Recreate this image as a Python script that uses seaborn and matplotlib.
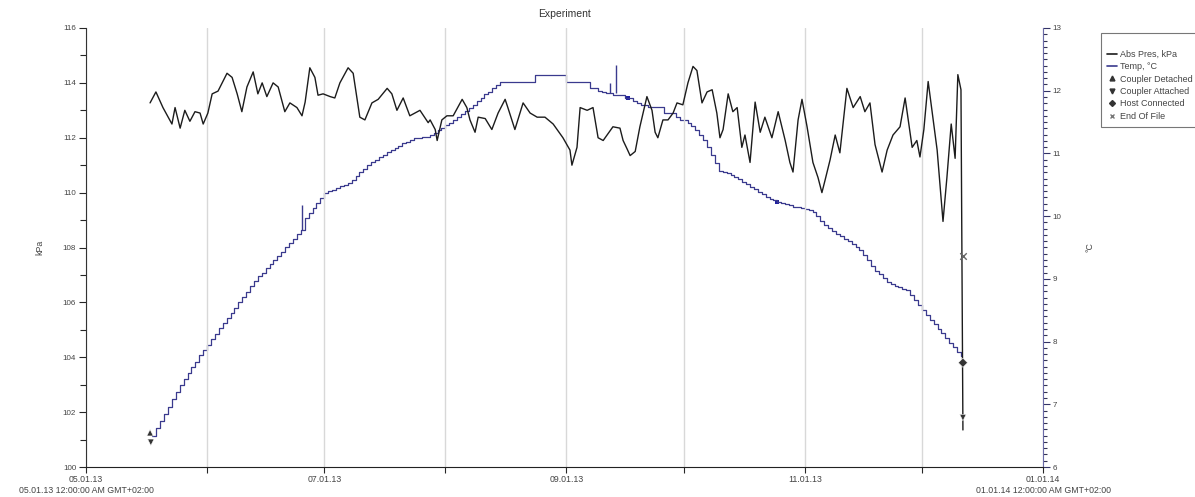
import pandas as pd
import matplotlib

matplotlib.use("Agg")
import matplotlib.pyplot as plt
import matplotlib.dates as mdates
from matplotlib.ticker import MultipleLocator, FuncFormatter
from matplotlib.lines import Line2D
import seaborn as sns

LAUNCH = pd.Timestamp("2013-05-01")
END = pd.Timestamp("2014-01-01")

# Abs Pres (kPa) - dias desde 01/05/2013
pres_day = [
    16.4, 17.9, 19.7, 22.0, 22.8, 24.1, 25.3, 26.6, 27.9, 29.2, 30.0, 31.2, 32.3,
    33.8, 36.1, 37.4, 38.7, 39.9, 41.2, 42.8, 44.0, 45.1, 46.3, 47.9, 49.2, 50.9,
    52.2, 54.0, 55.3, 56.1, 57.3, 58.6, 59.4, 60.7, 62.5, 63.7, 65.0, 67.1, 68.4,
    70.1, 71.4, 73.2, 74.8, 77.1, 78.3, 79.6, 81.2, 82.9, 85.5, 87.6, 88.1, 89.4,
    89.9, 91.1, 92.4, 94.0, 96.3, 97.5, 98.3, 99.6, 100.4, 102.2, 103.9, 105.5,
    107.3, 108.0, 109.8, 111.9, 113.7, 115.5, 117.5, 119.6, 122.1, 123.9, 124.4,
    125.7, 126.5, 128.3, 129.8, 131.1, 132.4, 133.4, 134.9, 136.7, 137.5, 138.5,
    139.3, 140.6, 141.8, 143.6, 144.9, 145.7, 146.4, 147.7, 149.0, 150.3, 151.3,
    152.8, 154.1, 155.4, 156.4, 157.7, 159.0, 160.3, 161.5, 162.3, 163.1, 164.4,
    165.6, 166.7, 167.9, 168.7, 170.0, 171.3, 172.6, 173.8, 175.6, 177.2, 179.0,
    180.2, 181.0, 182.3, 183.3, 184.6, 186.1, 187.4, 188.4, 189.2, 190.5, 191.8,
    193.0, 194.8, 196.4, 198.2, 199.4, 200.7, 202.0, 203.8, 205.1, 206.6, 208.4,
    209.7, 211.5, 212.7, 213.5, 214.5, 215.6, 216.8, 217.9, 219.4, 220.4, 221.5,
    222.5, 223.2, 224.0, 224.5,
]
pres_kpa = [
    113.27, 113.67, 113.1, 112.5, 113.1, 112.35, 113.0, 112.6, 112.95, 112.9, 112.5,
    112.9, 113.6, 113.7, 114.35, 114.2, 113.6, 112.95, 113.85, 114.4, 113.6, 114.0,
    113.5, 114.0, 113.85, 112.95, 113.27, 113.1, 112.8, 113.3, 114.55, 114.2, 113.55,
    113.6, 113.5, 113.45, 114.0, 114.55, 114.35, 112.75, 112.65, 113.27, 113.4, 113.8,
    113.6, 113.0, 113.45, 112.8, 113.0, 112.55, 112.65, 112.3, 111.9, 112.65, 112.8,
    112.8, 113.4, 113.1, 112.65, 112.2, 112.75, 112.7, 112.3, 112.9, 113.4, 113.1,
    112.3, 113.27, 112.9, 112.75, 112.75, 112.5, 112.0, 111.55, 111.0, 111.65, 113.1,
    113.0, 113.1, 112.0, 111.9, 112.1, 112.4, 112.35, 111.9, 111.6, 111.35, 111.5,
    112.4, 113.5, 113.0, 112.2, 112.0, 112.65, 112.65, 112.9, 113.27, 113.2, 114.0,
    114.6, 114.45, 113.27, 113.67, 113.75, 112.9, 112.0, 112.3, 113.6, 112.95, 113.1,
    111.65, 112.1, 111.1, 113.3, 112.2, 112.75, 112.0, 112.95, 111.9, 111.1, 110.75,
    112.65, 113.4, 112.4, 111.1, 110.55, 110.0, 110.45, 111.2, 112.1, 111.45, 113.8,
    113.1, 113.5, 112.95, 113.27, 111.75, 110.75, 111.55, 112.1, 112.4, 113.45,
    111.65, 111.9, 111.3, 112.3, 114.05, 112.75, 111.55, 108.95, 110.55, 112.5,
    111.25, 114.3, 113.75, 101.35,
]

# Temp (°C) - uma leitura por dia, a partir de 18/05/2013
temp_start = "2013-05-18"
temp_c = [
    6.50, 6.62, 6.73, 6.85, 6.96, 7.08, 7.19, 7.31, 7.40, 7.50,
    7.59, 7.68, 7.78, 7.87, 7.95, 8.04, 8.12, 8.21, 8.29, 8.38,
    8.46, 8.54, 8.63, 8.71, 8.79, 8.88, 8.96, 9.04, 9.10, 9.17,
    9.23, 9.30, 9.36, 9.43, 9.50, 9.57, 9.64, 9.71, 9.78, 9.97,
    10.05, 10.13, 10.21, 10.29, 10.37, 10.40, 10.42, 10.45, 10.48, 10.50,
    10.53, 10.58, 10.64, 10.70, 10.75, 10.81, 10.86, 10.90, 10.94, 10.98,
    11.02, 11.06, 11.09, 11.12, 11.16, 11.19, 11.22, 11.25, 11.25, 11.26,
    11.26, 11.30, 11.33, 11.37, 11.41, 11.45, 11.49, 11.53, 11.58, 11.63,
    11.68, 11.73, 11.78, 11.84, 11.89, 11.95, 11.98, 12.04, 12.09, 12.14,
    12.14, 12.14, 12.14, 12.14, 12.14, 12.14, 12.14, 12.14, 12.25, 12.25,
    12.25, 12.25, 12.25, 12.25, 12.25, 12.25, 12.14, 12.14, 12.14, 12.14,
    12.14, 12.14, 12.04, 12.04, 12.00, 11.98, 11.96, 11.96, 11.93, 11.93,
    11.93, 11.88, 11.88, 11.84, 11.80, 11.77, 11.77, 11.74, 11.74, 11.74,
    11.74, 11.64, 11.64, 11.64, 11.58, 11.53, 11.53, 11.48, 11.43, 11.37,
    11.30, 11.22, 11.10, 10.98, 10.85, 10.72, 10.70, 10.68, 10.66, 10.63,
    10.59, 10.55, 10.51, 10.47, 10.43, 10.39, 10.35, 10.31, 10.28, 10.25,
    10.23, 10.21, 10.19, 10.17, 10.15, 10.15, 10.13, 10.11, 10.09, 10.07,
    10.00, 9.93, 9.86, 9.81, 9.77, 9.72, 9.68, 9.64, 9.60, 9.55,
    9.51, 9.46, 9.38, 9.30, 9.21, 9.13, 9.07, 9.01, 8.95, 8.92,
    8.89, 8.87, 8.84, 8.82, 8.74, 8.66, 8.58, 8.50, 8.43, 8.35,
    8.28, 8.20, 8.13, 8.05, 7.98, 7.91, 7.84, 7.77,
]

# picos e marcas pequenas na curva de temperatura
temp_spike_day = [55.3, 134.2, 135.7]
temp_spike_base = [9.78, 11.96, 11.96]
temp_spike_top = [10.18, 12.12, 12.41]
temp_mark_day = [138.8, 176.9]
temp_mark_c = [11.88, 10.23]

# eventos do logger (eixo kPa)
event_name = ["Coupler Detached", "Coupler Attached", "Coupler Attached",
              "Host Connected", "End Of File"]
event_day = [16.4, 16.6, 224.5, 224.5, 224.5]
event_kpa = [101.25, 100.9, 101.8, 103.8, 107.7]

PRES_COLOR = "#1c1c1c"
TEMP_COLOR = "#3a3a8e"
EVENT_COLOR = "#333333"
TEXT_COLOR = "#444444"
MARKERS = {"Coupler Detached": "^", "Coupler Attached": "v",
           "Host Connected": "D"}


def to_dates(days):
    return LAUNCH + pd.to_timedelta(days, unit="D")


def plot_experiment(output="out.png"):
    sns.set_style("ticks")
    plt.rcParams["font.family"] = ["Liberation Sans", "DejaVu Sans"]

    pres = pd.DataFrame({"time": to_dates(pres_day), "kpa": pres_kpa})
    temp = pd.DataFrame({
        "time": pd.date_range(temp_start, periods=len(temp_c), freq="D"),
        "c": temp_c,
    })
    events = pd.DataFrame({"time": to_dates(event_day), "kpa": event_kpa,
                           "event": event_name})
    filled = events[events["event"] != "End Of File"]
    eof = events[events["event"] == "End Of File"]

    fig = plt.figure(figsize=(11.95, 4.97), dpi=100)
    ax = fig.add_axes([86 / 1195, 30 / 497, 957 / 1195, 439 / 497])
    ax2 = ax.twinx()

    sns.lineplot(data=temp, x="time", y="c", ax=ax2, color=TEMP_COLOR, lw=0.9,
                 drawstyle="steps-post", estimator=None, sort=False)
    ax2.vlines(to_dates(temp_spike_day), temp_spike_base, temp_spike_top,
               color=TEMP_COLOR, lw=1)
    sns.scatterplot(x=to_dates(temp_mark_day), y=temp_mark_c, ax=ax2, marker="s",
                    s=10, color="#2020a0", linewidth=0)

    sns.lineplot(data=pres, x="time", y="kpa", ax=ax, color=PRES_COLOR, lw=1.0,
                 estimator=None, sort=False)
    sns.scatterplot(data=filled, x="time", y="kpa", style="event", markers=MARKERS,
                    ax=ax, color=EVENT_COLOR, s=22, legend=False, zorder=5)
    sns.scatterplot(data=eof, x="time", y="kpa", marker="x", ax=ax,
                    color="#666666", s=22, linewidth=1, zorder=5)

    # pressão por cima da temperatura
    ax.set_zorder(ax2.get_zorder() + 1)
    ax.patch.set_visible(False)

    # eixo x (datas)
    ax.set_xlim(LAUNCH, END)
    ax.xaxis.set_major_locator(mdates.MonthLocator(bymonth=[1, 5, 7, 9, 11]))
    ax.xaxis.set_minor_locator(mdates.MonthLocator(bymonth=[6, 8, 10, 12]))

    def fmt_date(v, pos=None):
        d = mdates.num2date(v)
        label = d.strftime("%m.%d.%y")
        if d.month in (5, 1):
            label += "\n" + d.strftime("%m.%d.%y") + " 12:00:00 AM GMT+02:00"
        return label

    ax.xaxis.set_major_formatter(FuncFormatter(fmt_date))
    ax.grid(True, axis="x", which="both", color="#d8d8d8", lw=1)
    ax.tick_params(axis="x", which="both", length=4, width=0.8, labelsize=6.3,
                   labelcolor=TEXT_COLOR, pad=2)

    # eixo kPa
    ax.set_ylim(100, 116)
    ax.yaxis.set_major_locator(MultipleLocator(2))
    ax.yaxis.set_minor_locator(MultipleLocator(1))
    ax.tick_params(axis="y", which="major", length=5, width=0.8, labelsize=5.8,
                   labelcolor=TEXT_COLOR, pad=2)
    ax.tick_params(axis="y", which="minor", length=4, width=0.8)
    ax.set_ylabel("kPa", fontsize=6.3, color=TEXT_COLOR, labelpad=13)
    ax.set_xlabel("")

    # eixo °C
    ax2.set_ylim(6, 13)
    ax2.yaxis.set_major_locator(MultipleLocator(1))
    ax2.yaxis.set_minor_locator(MultipleLocator(0.1))
    ax2.tick_params(axis="y", which="major", length=5, width=0.8, labelsize=5.8,
                    labelcolor=TEXT_COLOR, color="#333366", pad=2)
    ax2.tick_params(axis="y", which="minor", length=3, width=0.8, color="#333355")
    ax2.set_ylabel("°C", fontsize=6.3, color=TEXT_COLOR, labelpad=17)
    ax2.set_xlabel("")

    for a in (ax, ax2):
        a.spines["top"].set_visible(False)
    ax.spines["right"].set_visible(False)
    ax2.spines["left"].set_visible(False)
    ax2.spines["bottom"].set_visible(False)
    ax2.spines["right"].set_color("#6a6aa8")
    ax.spines["left"].set_color("#333333")
    ax.spines["bottom"].set_color("#222222")

    ax.set_title("Experiment", fontsize=7.5, color="#333333", pad=8)

    handles = [
        Line2D([], [], color=PRES_COLOR, lw=1.2),
        Line2D([], [], color=TEMP_COLOR, lw=1.2),
        Line2D([], [], color=EVENT_COLOR, marker="^", ls="none", ms=3.5),
        Line2D([], [], color=EVENT_COLOR, marker="v", ls="none", ms=3.5),
        Line2D([], [], color=EVENT_COLOR, marker="D", ls="none", ms=3),
        Line2D([], [], color="#777777", marker="x", ls="none", ms=3.5),
    ]
    labels = ["Abs Pres, kPa", "Temp, °C", "Coupler Detached", "Coupler Attached",
              "Host Connected", "End Of File"]
    leg = fig.legend(handles, labels, loc="upper left",
                     bbox_to_anchor=(1101 / 1195, 1 - 33 / 497), fontsize=6.5,
                     title=" ", title_fontsize=6,
                     frameon=True, fancybox=False, edgecolor="#555555",
                     handlelength=1.1, handletextpad=0.3, labelspacing=0.38,
                     borderpad=0.7, borderaxespad=0)
    leg.get_frame().set_linewidth(0.8)
    for t in leg.get_texts():
        t.set_color(TEXT_COLOR)

    fig.savefig(output, dpi=100)
    plt.close(fig)


if __name__ == "__main__":
    plot_experiment()
